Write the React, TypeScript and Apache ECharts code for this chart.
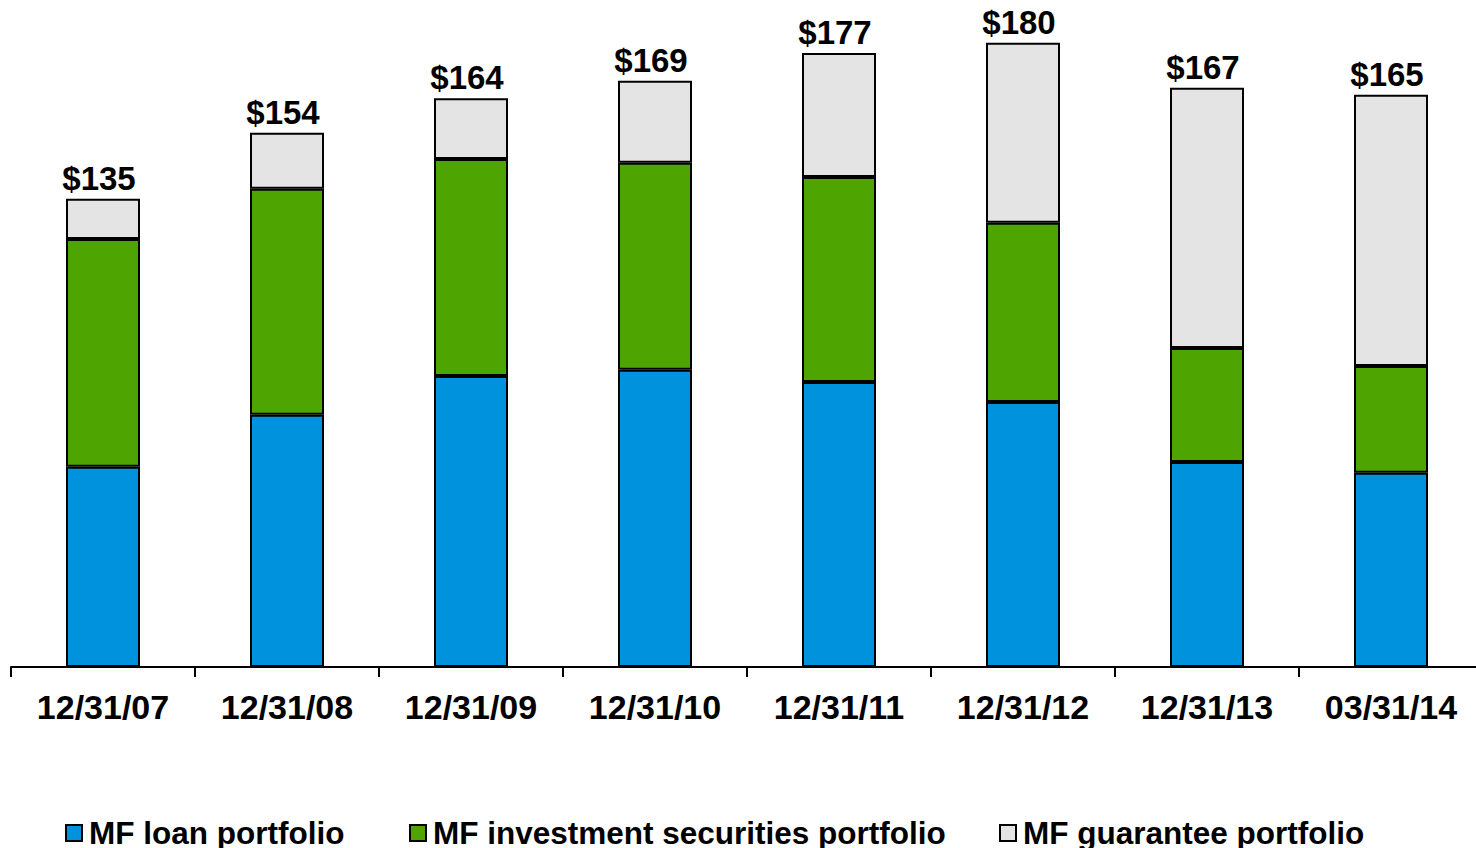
import React, { useEffect, useRef } from "react";
import * as echarts from "echarts";

const categories = ["12/31/07", "12/31/08", "12/31/09", "12/31/10", "12/31/11", "12/31/12", "12/31/13", "03/31/14"];
const loanPortfolio = [57.7, 72.7, 83.9, 85.7, 82.2, 76.4, 59.1, 56.0];
const investmentPortfolio = [65.7, 65.2, 62.6, 59.7, 59.1, 51.7, 32.9, 30.8];
const guaranteePortfolio = [11.6, 16.1, 17.5, 23.6, 35.7, 51.9, 75.0, 78.2];
const totals = [135, 154, 164, 169, 177, 180, 167, 165];
const seriesNames = ["MF loan portfolio", "MF investment securities portfolio", "MF guarantee portfolio"];

const FONT = "'Liberation Sans', Arial, sans-serif";

export default function App() {
  const ref = useRef<HTMLDivElement>(null);
  useEffect(() => {
    if (!ref.current) return;
    const chart = echarts.init(ref.current, undefined, { renderer: "svg" });
    const colors = ["#0092DC", "#4EA400", "#E4E4E4"];
    const legendLefts = [65, 409, 999];
    const itemStyleBase = { borderColor: "#000", borderWidth: 2 };
    chart.setOption({
      animation: false,
      backgroundColor: "#fff",
      grid: { left: 11, top: 8, width: 1472, height: 659, containLabel: false },
      legend: seriesNames.map((n, i) => ({
        data: [n],
        left: legendLefts[i],
        top: 817,
        padding: 0,
        itemWidth: 16,
        itemHeight: 16,
        itemGap: 6,
        icon: "rect",
        textStyle: { fontFamily: FONT, fontWeight: "bold", fontSize: 31.5, color: "#000", padding: [0, 0, 0, 2] },
        selectedMode: false,
      })),
      xAxis: {
        type: "category",
        data: categories,
        axisLine: { show: true, lineStyle: { color: "#000", width: 2 } },
        axisTick: { show: true, interval: 0, alignWithLabel: false, length: 10, lineStyle: { color: "#000", width: 2 } },
        axisLabel: { fontFamily: FONT, fontWeight: "bold", fontSize: 34, color: "#000", margin: 23, interval: 0 },
      },
      yAxis: { type: "value", min: 0, max: 190, show: false, splitLine: { show: false } },
      series: [
        {
          name: seriesNames[0], type: "bar", stack: "a", barWidth: 74, data: loanPortfolio,
          itemStyle: { ...itemStyleBase, color: colors[0] },
        },
        {
          name: seriesNames[1], type: "bar", stack: "a", barWidth: 74, data: investmentPortfolio,
          itemStyle: { ...itemStyleBase, color: colors[1] },
        },
        {
          name: seriesNames[2], type: "bar", stack: "a", barWidth: 74, data: guaranteePortfolio,
          itemStyle: { ...itemStyleBase, color: colors[2] },
          label: {
            show: true, position: "top", distance: 4, offset: [-4, 0],
            fontFamily: FONT, fontWeight: "bold", fontSize: 33, color: "#000",
            formatter: (p: any) => "$" + totals[p.dataIndex],
          },
        },
      ],
    });
    return () => chart.dispose();
  }, []);
  return (
    <div style={{ position: "fixed", left: 0, top: 0, width: 1476, height: 848, overflow: "hidden" }}>
      <div ref={ref} style={{ width: 1484, height: 848 }} />
    </div>
  );
}
